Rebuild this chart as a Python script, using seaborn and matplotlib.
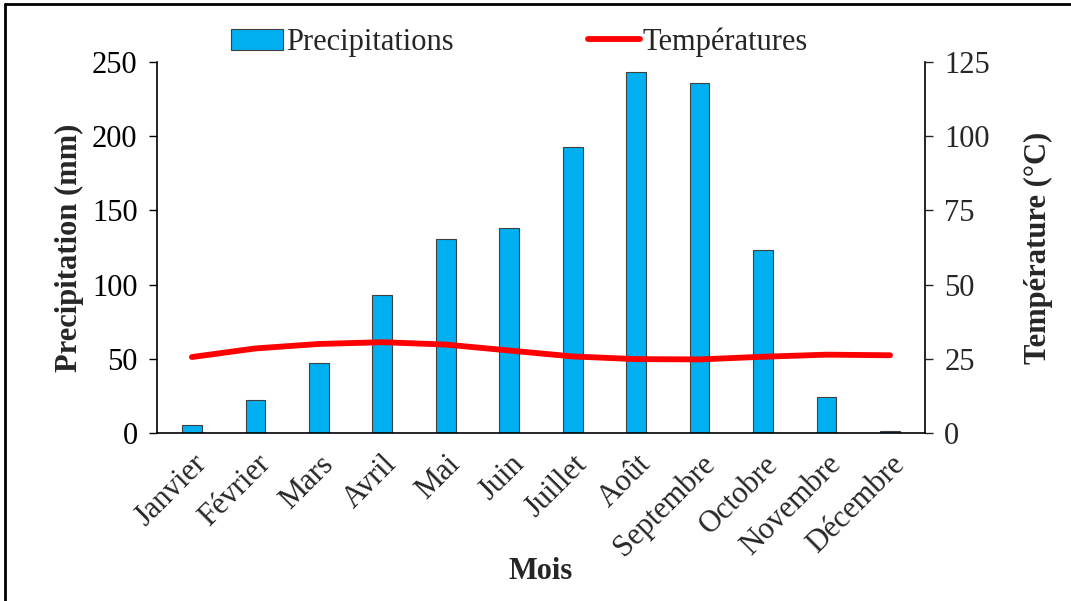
import numpy as np
import pandas as pd
import seaborn as sns
import matplotlib.pyplot as plt
from matplotlib.lines import Line2D

# data
mois = ['Janvier', 'Février', 'Mars', 'Avril', 'Mai', 'Juin', 'Juillet',
        'Août', 'Septembre', 'Octobre', 'Novembre', 'Décembre']
precipitations = [5.6, 22, 47, 93, 131, 138, 193, 243, 236, 123, 24.5, 1.1]
temperatures = [25.6, 28.5, 30.0, 30.6, 29.8, 27.8, 25.8, 24.9, 24.8, 25.7, 26.4, 26.2]

df = pd.DataFrame({'Mois': mois, 'Precip': precipitations, 'Temp': temperatures})

sns.set_style('ticks')
plt.rcParams['font.family'] = ['Liberation Serif', 'DejaVu Serif']
plt.rcParams['font.size'] = 22

fig = plt.figure(figsize=(10.71, 6.01), dpi=100)
ax = fig.add_axes([0.1466, 0.2795, 0.717, 0.6173])

sns.barplot(data=df, x='Mois', y='Precip', color='#00B0F0', saturation=1,
            width=0.31, edgecolor='#404040', linewidth=0.8, ax=ax,
            label='Precipitations', legend=False)
ax.set_ylim(0, 250)
ax.set_yticks(range(0, 251, 50))
ax.set_xlim(-0.55, 11.55)
ax.set_ylabel('Precipitation (mm)', fontweight='bold', fontsize=22, labelpad=6)
ax.set_xlabel('Mois', fontweight='bold', fontsize=22, labelpad=-4)
ax.set_xticks(range(len(mois)))
ax.set_xticklabels(mois, rotation=45, ha='right', rotation_mode='anchor')
ax.tick_params(axis='x', length=0, pad=12)
ax.tick_params(axis='y', length=6, width=1, direction='out', colors='black', pad=8)
if ax.get_legend() is not None:
    ax.get_legend().remove()

ax2 = ax.twinx()
sns.lineplot(x=np.arange(len(mois)), y=df['Temp'], color='#FF0000', linewidth=4.2,
             ax=ax2, label='Températures', legend=False)
ax2.set_ylim(0, 125)
ax2.set_yticks(range(0, 126, 25))
ax2.set_ylabel('Température (°C)', fontweight='bold', fontsize=22, labelpad=24)
ax2.tick_params(axis='y', length=6, width=1, direction='out', pad=8)

for a in (ax, ax2):
    a.spines['top'].set_visible(False)
    for s in ('left', 'right', 'bottom'):
        a.spines[s].set_color('black')
        a.spines[s].set_linewidth(1.2)
ax.spines['right'].set_visible(False)
ax2.spines['left'].set_visible(False)
ax2.spines['bottom'].set_visible(False)

h1, l1 = ax.get_legend_handles_labels()
h2, l2 = ax2.get_legend_handles_labels()
fig.legend(h1 + h2, l1 + l2, loc='upper center', bbox_to_anchor=(0.485, 1.0),
           ncol=2, frameon=False, fontsize=22, columnspacing=4.4,
           handlelength=1.7, handletextpad=0.1)

# frame lines round the chart (top and left only, as in the picture)
fig.lines.append(Line2D([0.005, 1.0], [0.993, 0.993], transform=fig.transFigure,
                        color='black', linewidth=2))
fig.lines.append(Line2D([0.005, 0.005], [0.0, 0.993], transform=fig.transFigure,
                        color='black', linewidth=2))

fig.savefig('out.png', dpi=100)
